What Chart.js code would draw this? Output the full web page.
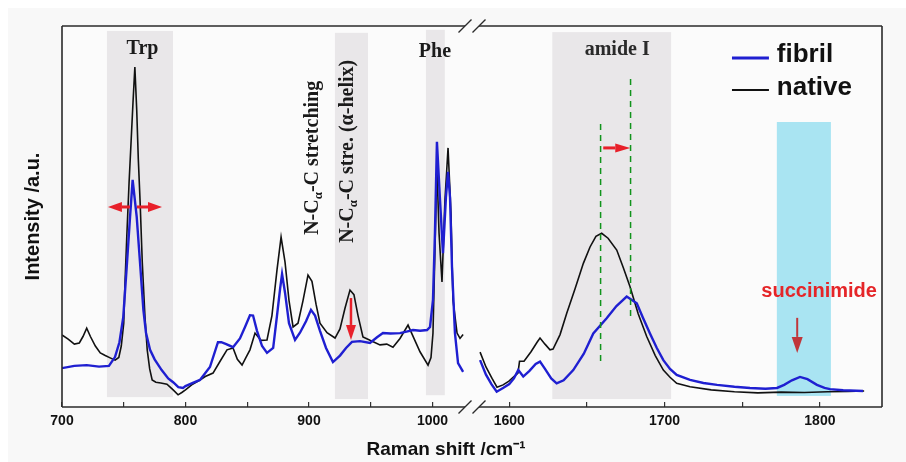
<!DOCTYPE html>
<html><head><meta charset="utf-8">
<script src="https://cdn.jsdelivr.net/npm/chart.js@4.4.1/dist/chart.umd.min.js"></script>
<style>html,body{margin:0;padding:0;background:#fff;}canvas{display:block;}</style>
</head><body>
<canvas id="c" width="906" height="462"></canvas>
<script>
// ---------- data (Raman shift in cm-1, intensity in arbitrary units 0..100) ----------
const nativeLeftWn = [700,705,710,714,717,720,723,727,731,735,739,743,746,748,750,751,752.5,754.3,756,757.5,759,760.5,761.8,763.2,765,767.2,769,771,773,776,780,785,790,794,797,800,805,811.7,816,822.3,828,833.6,838.5,842,845.8,849,852.2,856.3,861.1,866,870,874.1,877.4,880.6,883.8,887.1,891.1,895.2,899.2,902.4,905.7,908.9,914.6,921.1,925.1,929.2,933.2,936.4,939.7,943.7,949.4,957.5,963,968,973.7,980.2,985,989.9,996.4,998.8,1000.4,1002,1003.6,1005.3,1007.7,1010.1,1012.6,1015,1016.6,1019.9,1022.3,1024.8];
const nativeLeftInt = [18.9,17.8,16.5,16.8,18.5,20.7,18.5,16.0,14.2,13.5,12.9,12.3,13.0,16.0,22.0,32.5,45.0,58.8,70.0,80.0,89.2,78.0,65.0,54.3,38.0,23.6,15.0,10.0,7.1,6.5,6.3,6.0,4.5,3.2,3.8,4.5,5.8,7.1,8.0,8.9,12.0,15.0,15.5,12.5,11.0,13.0,15.0,19.4,17.5,17.6,24.0,36.0,44.6,38.0,28.0,21.0,22.0,28.0,34.6,33.0,27.0,22.0,19.5,18.1,20.5,26.0,30.7,29.5,24.0,18.4,17.5,16.3,16.5,15.7,18.0,21.5,18.0,14.5,11.0,13.0,19.4,41.2,63.0,45.7,32.8,54.3,68.0,50.7,28.1,19.4,18.0,19.0];

const fibrilLeftWn = [700,710,720,730,738,742.9,746.5,749.6,752.4,755.1,757.2,760.5,763.2,765.9,768,771.3,775,780.7,786,790,794.2,798,800,805,811.7,819.8,826.3,829,833,838.5,844.1,848.2,852.2,854.7,857.9,862,866,871,874.1,876.6,878.2,880.6,883.8,888.7,892.7,897.6,901.6,904.9,908.9,913.8,919.4,925.1,930,934.8,941.3,949.4,955.1,959.9,966,973.7,979,984.2,990,995.6,998,1000.4,1002,1003.6,1006.1,1008.5,1010.9,1012.6,1014.2,1015.8,1018.2,1020.7,1024.8];
const fibrilLeftInt = [10.2,10.8,11.0,10.6,10.8,13.1,17.0,23.6,36.7,49.9,59.6,49.9,37.8,25.5,19.5,15.0,12.5,9.7,7.5,6.5,5.2,5.0,5.5,6.2,7.1,10.5,17.0,17.0,16.5,15.7,18.0,21.0,24.1,24.0,20.0,16.0,14.2,15.5,24.0,31.0,34.9,30.0,22.0,17.6,19.5,22.5,25.5,24.0,20.0,15.5,11.8,13.5,15.5,17.1,17.3,16.8,18.3,19.4,19.3,19.4,19.8,20.2,20.0,20.2,21.0,28.1,45.7,69.6,54.3,40.4,55.0,61.7,55.0,36.7,19.4,11.5,9.2];

const nativeRightWn = [1581.2,1585,1588.9,1592.1,1596,1599.8,1603,1605.6,1606.6,1609.5,1614,1617.9,1619.8,1623,1626.2,1628.2,1632.7,1637,1642.3,1647.7,1652,1655.8,1659.5,1663.6,1669.2,1673.5,1677.7,1683,1688.5,1694,1699.2,1703.5,1707.8,1716.4,1730,1745,1760,1775,1790,1805,1818,1828.5];
const nativeRightInt = [14.4,10.5,7.5,5.2,5.8,6.8,8.0,8.9,12.0,12.0,14.5,17.0,18.1,16.5,15.0,15.2,19.0,24.6,31.0,37.7,42.0,44.8,45.6,44.3,41.2,36.5,31.6,24.5,18.5,13.5,9.7,7.8,6.2,5.3,4.5,4.0,3.7,3.9,3.8,4.0,4.1,4.2];

const fibrilRightWn = [1581.2,1585,1588.5,1591.9,1596,1600,1603,1605.8,1609,1613,1617,1619.8,1623,1627,1630.5,1635,1641.2,1648,1654.1,1662.7,1669,1675.6,1682.1,1686,1690.6,1695,1699.2,1703.5,1707.8,1716.4,1725,1733.8,1745,1755,1765,1772.4,1777,1782,1787.2,1792,1798.1,1803,1806.5,1815,1827.8];
const fibrilRightInt = [12.3,8.5,6.0,4.0,5.0,6.0,7.5,9.7,8.0,9.5,11.3,11.9,10.0,7.5,6.2,7.0,9.7,14.0,19.3,23.3,26.5,29.0,27.2,23.5,19.3,15.5,12.3,10.0,8.4,7.1,6.3,5.8,5.3,5.0,4.8,5.0,5.8,7.0,7.9,7.3,5.8,5.0,4.7,4.4,4.2];

// tick labels shown on the two halves of the broken axis
const tickLabelsLeft = [700, 800, 900, 1000];
const tickLabelsRight = [1600, 1700, 1800];

// highlighted bands (axis, from, to, top, bottom)
const bandAxis   = ['xL', 'xL', 'xL', 'xR'];
const bandFrom   = [736.4, 921.0, 994.7, 1627.7];
const bandTo     = [789.9, 947.8, 1010.0, 1704.2];
const bandTop    = [98.7, 98.2, 99.0, 98.4];
const bandBottom = [2.6, 2.1, 3.1, 2.1];
const succBand = [1772.3, 1807.1, 74.8, 2.9];

// amide I peak positions (dashed guides): position, top, bottom
const guideWn = [1658.8, 1678.1];
const guideTop = [74.3, 86.1];
const guideBottom = [11.8, 22.8];

// ---------- styling ----------
const BLUE = '#1f1fd1', BLACK = '#111111', RED = '#e8202a', DARKRED = '#c0363a', GREEN = '#11941c';
const SANS = "'Liberation Sans', Arial, sans-serif";
const SERIF = "'Liberation Serif', 'Times New Roman', serif";
Chart.defaults.font.family = SANS;
Chart.defaults.color = '#111';

function pts(xs, ys) { return xs.map((x, i) => ({x: x, y: ys[i]})); }

function arrow(ctx, x1, y1, x2, y2, color, lw, headLen, headW) {
  const a = Math.atan2(y2 - y1, x2 - x1);
  const bx = x2 - headLen * Math.cos(a), by = y2 - headLen * Math.sin(a);
  ctx.strokeStyle = color; ctx.lineWidth = lw; ctx.setLineDash([]);
  ctx.beginPath(); ctx.moveTo(x1, y1); ctx.lineTo(bx, by); ctx.stroke();
  ctx.fillStyle = color; ctx.beginPath();
  ctx.moveTo(x2, y2);
  ctx.lineTo(bx - headW * Math.sin(a), by + headW * Math.cos(a));
  ctx.lineTo(bx + headW * Math.sin(a), by - headW * Math.cos(a));
  ctx.closePath(); ctx.fill();
}

function richRotated(ctx, cx, cy, parts) {
  const main = 'bold 20px ' + SERIF, sub = 'bold 13px ' + SERIF;
  let total = 0;
  parts.forEach(p => { ctx.font = p.sub ? sub : main; p.w = ctx.measureText(p.t).width; total += p.w; });
  ctx.save();
  ctx.translate(cx, cy); ctx.rotate(-Math.PI / 2);
  ctx.textBaseline = 'middle'; ctx.textAlign = 'left'; ctx.fillStyle = '#1a1a1a';
  let x = -total / 2;
  parts.forEach(p => { ctx.font = p.sub ? sub : main; ctx.fillText(p.t, x, p.sub ? 6 : 0); x += p.w; });
  ctx.restore();
}

const deco = {
  id: 'deco',
  beforeDraw(chart) {
    const ctx = chart.ctx, a = chart.chartArea;
    ctx.save();
    ctx.fillStyle = '#ffffff'; ctx.fillRect(0, 0, chart.width, chart.height);
    ctx.fillStyle = '#f8f8f8'; ctx.fillRect(8, 8, chart.width - 8, chart.height - 8);
    ctx.fillStyle = '#fbfbfb'; ctx.fillRect(a.left, a.top, a.width, a.height);
    ctx.restore();
  },
  beforeDatasetsDraw(chart) {
    const ctx = chart.ctx, y = chart.scales.y;
    ctx.save();
    ctx.fillStyle = '#e9e7e9';
    for (let i = 0; i < bandAxis.length; i++) {
      const s = chart.scales[bandAxis[i]];
      const x1 = s.getPixelForValue(bandFrom[i]), x2 = s.getPixelForValue(bandTo[i]);
      const y1 = y.getPixelForValue(bandTop[i]), y2 = y.getPixelForValue(bandBottom[i]);
      ctx.fillRect(x1, y1, x2 - x1, y2 - y1);
    }
    const xr = chart.scales.xR;
    ctx.fillStyle = '#a9e4f2';
    const cx1 = xr.getPixelForValue(succBand[0]), cx2 = xr.getPixelForValue(succBand[1]);
    const cy1 = y.getPixelForValue(succBand[2]), cy2 = y.getPixelForValue(succBand[3]);
    ctx.fillRect(cx1, cy1, cx2 - cx1, cy2 - cy1);
    ctx.restore();
  },
  afterDatasetsDraw(chart) {
    const ctx = chart.ctx, a = chart.chartArea;
    const xL = chart.scales.xL, xR = chart.scales.xR, y = chart.scales.y;
    ctx.save();
    // dashed guides
    ctx.strokeStyle = GREEN; ctx.lineWidth = 1.5; ctx.setLineDash([6, 5]);
    for (let i = 0; i < guideWn.length; i++) {
      const gx = xR.getPixelForValue(guideWn[i]);
      ctx.beginPath(); ctx.moveTo(gx, y.getPixelForValue(guideTop[i])); ctx.lineTo(gx, y.getPixelForValue(guideBottom[i])); ctx.stroke();
    }
    ctx.setLineDash([]);
    // frame with axis break
    const brk = xL.right;
    ctx.strokeStyle = '#2b2b2b'; ctx.lineWidth = 1.6;
    ctx.beginPath();
    ctx.moveTo(a.left, a.top); ctx.lineTo(a.left, a.bottom);
    ctx.moveTo(a.right, a.top); ctx.lineTo(a.right, a.bottom);
    [a.top, a.bottom].forEach(yy => {
      ctx.moveTo(a.left, yy); ctx.lineTo(brk - 7, yy);
      ctx.moveTo(brk + 7, yy); ctx.lineTo(a.right, yy);
    });
    ctx.stroke();
    ctx.lineWidth = 1.4;
    ctx.beginPath();
    [a.top, a.bottom].forEach(yy => {
      [brk - 7, brk + 7].forEach(cx => { ctx.moveTo(cx - 6.5, yy + 6.5); ctx.lineTo(cx + 6.5, yy - 6.5); });
    });
    ctx.stroke();
    // arrows
    const ay = y.getPixelForValue(52.5);
    arrow(ctx, xL.getPixelForValue(755), ay, xL.getPixelForValue(737.2), ay, RED, 3, 14, 5);
    arrow(ctx, xL.getPixelForValue(760.7), ay, xL.getPixelForValue(781), ay, RED, 3, 14, 5);
    const nx = xL.getPixelForValue(934);
    arrow(ctx, nx, y.getPixelForValue(28.6), nx, y.getPixelForValue(17.6), RED, 2.5, 15, 5);
    const my = y.getPixelForValue(68.0);
    arrow(ctx, xR.getPixelForValue(1660.5), my, xR.getPixelForValue(1677.9), my, RED, 3, 15, 4.5);
    const sx = xR.getPixelForValue(1785.4);
    arrow(ctx, sx, y.getPixelForValue(23.4), sx, y.getPixelForValue(14.2), DARKRED, 2, 16, 5.5);
    // labels
    ctx.textAlign = 'center'; ctx.textBaseline = 'middle'; ctx.fillStyle = '#1a1a1a';
    ctx.font = 'bold 20px ' + SERIF;
    ctx.fillText('Trp', xL.getPixelForValue(765.2), y.getPixelForValue(94.0));
    ctx.fillText('Phe', xL.getPixelForValue(1002), y.getPixelForValue(93.2));
    ctx.fillStyle = '#2a2a2a';
    ctx.fillText('amide I', xR.getPixelForValue(1669.5), y.getPixelForValue(93.7));
    richRotated(ctx, xL.getPixelForValue(903.3), y.getPixelForValue(65.4),
      [{t: 'N-C'}, {t: 'α', sub: true}, {t: '-C stretching'}]);
    richRotated(ctx, xL.getPixelForValue(931.6), y.getPixelForValue(67.1),
      [{t: 'N-C'}, {t: 'α', sub: true}, {t: '-C stre. (α-helix)'}]);
    ctx.font = 'bold 20px ' + SANS; ctx.fillStyle = '#e52528';
    ctx.fillText('succinimide', xR.getPixelForValue(1799.5), y.getPixelForValue(30.2));
    // legend
    const lx1 = xR.getPixelForValue(1743.4), lx2 = xR.getPixelForValue(1767.2), tx = xR.getPixelForValue(1772.3);
    ctx.lineWidth = 3; ctx.strokeStyle = BLUE;
    ctx.beginPath(); ctx.moveTo(lx1, y.getPixelForValue(91.6)); ctx.lineTo(lx2, y.getPixelForValue(91.6)); ctx.stroke();
    ctx.lineWidth = 2; ctx.strokeStyle = BLACK;
    ctx.beginPath(); ctx.moveTo(lx1, y.getPixelForValue(83.2)); ctx.lineTo(lx2, y.getPixelForValue(83.2)); ctx.stroke();
    ctx.font = 'bold 26px ' + SANS; ctx.fillStyle = '#111'; ctx.textAlign = 'left';
    ctx.fillText('fibril', tx, y.getPixelForValue(92.4));
    ctx.fillText('native', tx, y.getPixelForValue(83.9));
    ctx.restore();
  }
};

function xAxis(min, max, labels) {
  return {
    type: 'linear', position: 'bottom', stack: 'raman', stackWeight: 1,
    min: min, max: max,
    afterFit(s) { s.height = 30; },
    border: {display: false},
    grid: {display: true, drawOnChartArea: false, drawTicks: true, tickLength: -5, color: '#333', lineWidth: 1.2},
    ticks: {
      stepSize: 50, includeBounds: false, autoSkip: false, maxRotation: 0, padding: 11,
      font: {size: 14, weight: 'bold'}, color: '#111',
      callback: v => labels.includes(v) ? String(v) : ''
    }
  };
}

new Chart(document.getElementById('c'), {
  type: 'line',
  data: {
    datasets: [
      {label: 'fibril', xAxisID: 'xL', yAxisID: 'y', data: pts(fibrilLeftWn, fibrilLeftInt), borderColor: BLUE, borderWidth: 2.4, order: 1},
      {label: 'fibril', xAxisID: 'xR', yAxisID: 'y', data: pts(fibrilRightWn, fibrilRightInt), borderColor: BLUE, borderWidth: 2.4, order: 1},
      {label: 'native', xAxisID: 'xL', yAxisID: 'y', data: pts(nativeLeftWn, nativeLeftInt), borderColor: BLACK, borderWidth: 1.6, order: 2},
      {label: 'native', xAxisID: 'xR', yAxisID: 'y', data: pts(nativeRightWn, nativeRightInt), borderColor: BLACK, borderWidth: 1.6, order: 2}
    ]
  },
  options: {
    responsive: false, animation: false, devicePixelRatio: 1,
    elements: {point: {radius: 0}, line: {tension: 0, fill: false}},
    layout: {padding: {left: 0, top: 26, right: 14, bottom: 0}},
    scales: {
      xL: xAxis(700, 1032, tickLabelsLeft),
      xR: xAxis(1576, 1840, tickLabelsRight),
      y: {
        type: 'linear', position: 'left', min: 0, max: 100,
        afterFit(s) { s.width = 62; },
        border: {display: false}, grid: {display: false}, ticks: {display: false},
        title: {display: true, text: 'Intensity /a.u.', font: {size: 20, weight: 'bold'}, color: '#111', padding: {top: 21, bottom: 0}}
      },
      y2: {
        type: 'linear', position: 'right', axis: 'y',
        afterFit(s) { s.width = 10; },
        border: {display: false}, grid: {display: false}, ticks: {display: false}
      }
    },
    plugins: {
      legend: {display: false},
      tooltip: {enabled: false},
      title: {display: true, position: 'bottom', text: 'Raman shift /cm⁻¹', font: {size: 19, weight: 'bold'}, color: '#111', padding: {top: 1, bottom: 1.2}}
    }
  },
  plugins: [deco]
});
</script>
</body></html>
